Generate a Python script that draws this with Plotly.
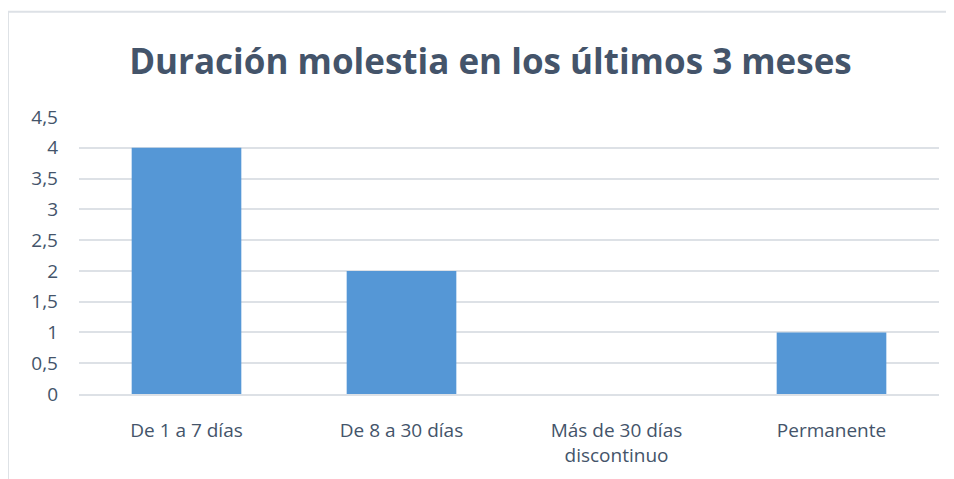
import plotly.graph_objects as go

categories = ["De 1 a 7 días", "De 8 a 30 días", "Más de 30 días<br>discontinuo", "Permanente"]
values = [4, 2, 0, 1]
tick_vals = [0, 0.5, 1, 1.5, 2, 2.5, 3, 3.5, 4, 4.5]
tick_text = ["0", "0,5", "1", "1,5", "2", "2,5", "3", "3,5", "4", "4,5"]
title = "Duración molestia en los últimos 3 meses"

fig = go.Figure()
fig.add_trace(go.Bar(
    x=categories, y=values,
    marker=dict(color="#5597D6", line=dict(width=0)),
))
fig.update_layout(
    width=946, height=471,
    margin=dict(l=71, r=15, t=109, b=85),
    paper_bgcolor="white", plot_bgcolor="white",
    bargap=0.49,
    showlegend=False,
    title=dict(text="<b>" + title + "</b>", x=0.51, xanchor="center", y=0.885, yanchor="middle",
               font=dict(family="Open Sans", size=35, color="#44546A")),
    font=dict(family="Open Sans", size=19, color="#44546A"),
)
fig.update_yaxes(range=[0, 4.5], tickvals=tick_vals, ticktext=tick_text,
                 showgrid=True, gridcolor="#DDE1E6", gridwidth=2, zeroline=False,
                 showline=False, ticks="", ticklabelstandoff=20,
                 tickfont=dict(size=19, color="#44546A"))
fig.update_xaxes(showgrid=False, showline=True, linecolor="#DDE1E6", linewidth=2,
                 ticks="", tickfont=dict(size=19, color="#44546A"), ticklabelstandoff=18)
fig.add_shape(type="rect", xref="paper", yref="paper", x0=-0.0826, x1=1.05, y0=-0.5, y1=1.38,
              line=dict(color="#DDE1E6", width=2), fillcolor="rgba(0,0,0,0)", layer="below")
fig.write_html("out.html")
